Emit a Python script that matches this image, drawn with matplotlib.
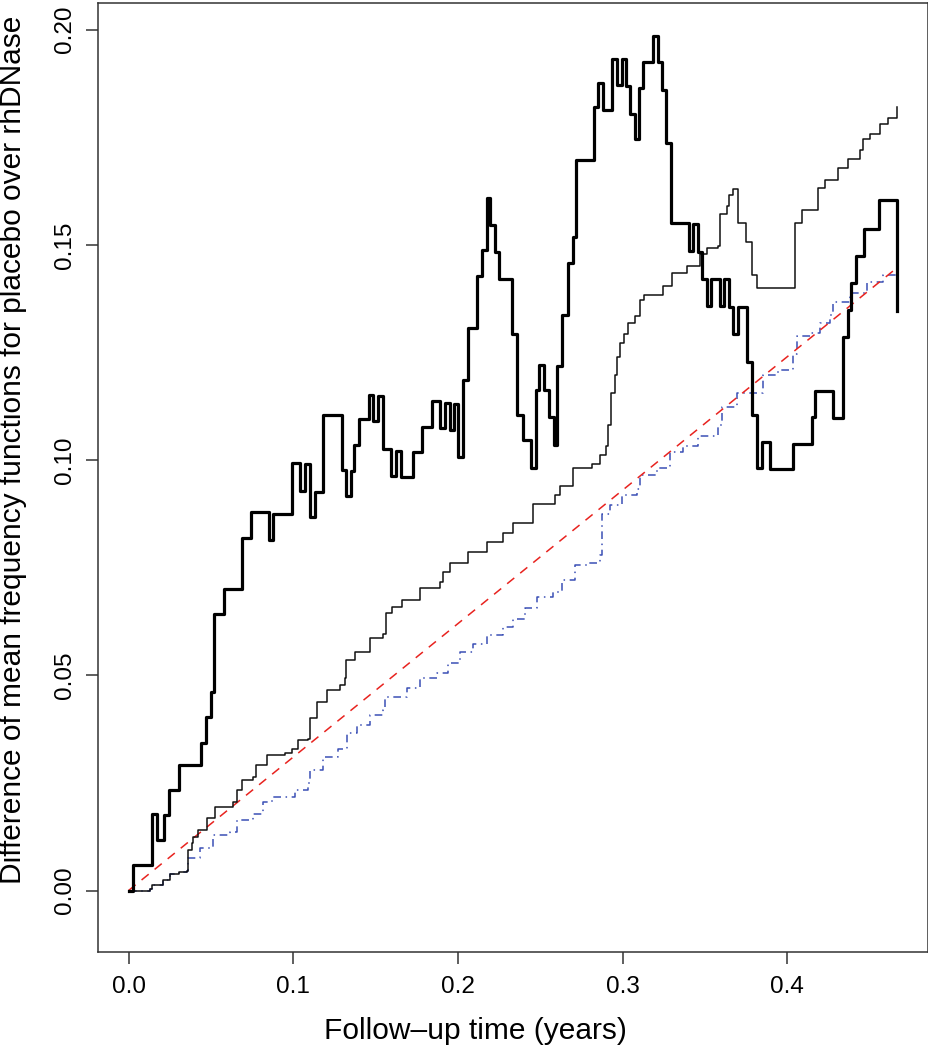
import numpy as np
import matplotlib
matplotlib.use('Agg')
import matplotlib.pyplot as plt

plt.rcParams['font.family'] = ['Liberation Sans', 'DejaVu Sans']

# thick black step curve: step start times and levels
thick_t = [0, 0.0029, 0.014, 0.017, 0.0215, 0.0247, 0.0308, 0.044, 0.0468, 0.0498,
           0.052, 0.0581, 0.069, 0.0741, 0.0852, 0.0879, 0.099, 0.104, 0.107, 0.110,
           0.1132, 0.1178, 0.1294, 0.132, 0.1348, 0.137, 0.140, 0.146, 0.1482, 0.1516,
           0.1543, 0.1593, 0.1622, 0.1652, 0.1729, 0.178, 0.184, 0.189, 0.192, 0.195,
           0.1978, 0.2002, 0.2033, 0.2063, 0.2113, 0.2144, 0.2174, 0.2194, 0.2225, 0.2251,
           0.233, 0.236, 0.2393, 0.2441, 0.2474, 0.2494, 0.2522, 0.2554, 0.2583, 0.2603,
           0.2633, 0.2666, 0.2696, 0.2716, 0.2826, 0.2852, 0.2882, 0.2933, 0.2963, 0.2994,
           0.3018, 0.3044, 0.3075, 0.3101, 0.3125, 0.3182, 0.3213, 0.3237, 0.3263, 0.3293,
           0.3404, 0.3425, 0.3455, 0.3483, 0.3514, 0.3534, 0.359, 0.3617, 0.3645, 0.3672,
           0.3702, 0.3757, 0.3783, 0.3817, 0.3848, 0.3894, 0.4032, 0.4151, 0.4168, 0.4279,
           0.4336, 0.437, 0.4384, 0.4417, 0.4465, 0.4558, 0.4663]
thick_y = [0, 0.0059, 0.0179, 0.0117, 0.0175, 0.0233, 0.0292, 0.0343, 0.0404, 0.0462,
           0.0642, 0.0701, 0.0820, 0.0879, 0.0814, 0.0874, 0.0993, 0.0928, 0.099, 0.0868,
           0.0925, 0.1105, 0.0978, 0.0917, 0.0975, 0.1036, 0.1096, 0.1152, 0.109, 0.115,
           0.1026, 0.0963, 0.1022, 0.0961, 0.1019, 0.1077, 0.1138, 0.1075, 0.1133, 0.1071,
           0.1131, 0.1007, 0.1187, 0.1308, 0.1428, 0.1488, 0.1608, 0.1546, 0.1484, 0.1421,
           0.1293, 0.1106, 0.1046, 0.0982, 0.1162, 0.1222, 0.1162, 0.110, 0.1036, 0.1218,
           0.1337, 0.1457, 0.1518, 0.1697, 0.182, 0.1876, 0.1813, 0.1933, 0.1871, 0.1932,
           0.1869, 0.1805, 0.1745, 0.1865, 0.1925, 0.1986, 0.1925, 0.1861, 0.1737, 0.155,
           0.1485, 0.1548, 0.1484, 0.1421, 0.1359, 0.1421, 0.1358, 0.142, 0.1355, 0.1293,
           0.1355, 0.1229, 0.1105, 0.0982, 0.1042, 0.098, 0.1038, 0.110, 0.116, 0.1098,
           0.1285, 0.1348, 0.1411, 0.1474, 0.1538, 0.1604, 0.1347]

# thin black step curve
thin_t = [0, 0.0130, 0.0140, 0.0211, 0.0251, 0.0308, 0.0353, 0.0359, 0.0383, 0.0393,
          0.0423, 0.0474, 0.0525, 0.0636, 0.0656, 0.0690, 0.0757, 0.0772, 0.0838, 0.0950,
          0.0990, 0.1031, 0.1091, 0.1101, 0.1142, 0.1203, 0.1284, 0.1314, 0.1320, 0.1375,
          0.1466, 0.1547, 0.1563, 0.1597, 0.1658, 0.1769, 0.1891, 0.1911, 0.1951, 0.2063,
          0.2174, 0.2275, 0.2336, 0.2457, 0.2589, 0.2619, 0.2700, 0.2812, 0.2862, 0.2899,
          0.2913, 0.2927, 0.2953, 0.2967, 0.2984, 0.3008, 0.3034, 0.3075, 0.3105, 0.3129,
          0.3247, 0.3297, 0.3389, 0.3469, 0.3510, 0.3581, 0.3591, 0.3632, 0.3647, 0.3672,
          0.3702, 0.3749, 0.3783, 0.3814, 0.4046, 0.4087, 0.4188, 0.4228, 0.4309, 0.4370,
          0.4441, 0.4461, 0.4501, 0.4562, 0.4613, 0.4663]
thin_y = [0, 0.0003, 0.0013, 0.0024, 0.0038, 0.0042, 0.0046, 0.0094, 0.0110, 0.0125,
          0.0141, 0.0168, 0.0195, 0.0206, 0.0233, 0.0258, 0.0264, 0.0292, 0.0315, 0.0319,
          0.0330, 0.0350, 0.0353, 0.0400, 0.0439, 0.0466, 0.0477, 0.0493, 0.0535, 0.0555,
          0.0586, 0.0596, 0.0644, 0.0659, 0.0675, 0.0702, 0.0717, 0.0741, 0.0760, 0.0787,
          0.0810, 0.0830, 0.0853, 0.0899, 0.0920, 0.0940, 0.0982, 0.0990, 0.1011, 0.1032,
          0.1081, 0.1156, 0.1197, 0.1239, 0.1272, 0.1293, 0.1318, 0.1334, 0.1372, 0.1384,
          0.1405, 0.1434, 0.1451, 0.1479, 0.1492, 0.1498, 0.1571, 0.1591, 0.1616, 0.1631,
          0.1550, 0.1506, 0.1430, 0.1401, 0.1550, 0.1581, 0.1633, 0.1650, 0.1679, 0.1699,
          0.1720, 0.1745, 0.1757, 0.1782, 0.1795, 0.1820]

# blue dash-dot step curve
blue_t = [0, 0.0130, 0.0140, 0.0211, 0.0251, 0.0308, 0.0353, 0.0359, 0.0434, 0.0514,
          0.0616, 0.0656, 0.0757, 0.0818, 0.0869, 0.1010, 0.1091, 0.1101, 0.1182, 0.1273,
          0.1324, 0.1385, 0.1466, 0.1547, 0.1557, 0.1688, 0.1769, 0.1871, 0.1941, 0.2012,
          0.2093, 0.2174, 0.2275, 0.2336, 0.2407, 0.2478, 0.2579, 0.2630, 0.2710, 0.2791,
          0.2862, 0.2873, 0.2923, 0.2994, 0.3085, 0.3105, 0.3206, 0.3287, 0.3368, 0.3459,
          0.3581, 0.3601, 0.3692, 0.3854, 0.3945, 0.4036, 0.4056, 0.4137, 0.4198, 0.4259,
          0.4279, 0.4380, 0.4481, 0.4582, 0.4663]
blue_y = [0, 0.0003, 0.0013, 0.0024, 0.0038, 0.0042, 0.0046, 0.0075, 0.0098, 0.0129,
          0.0136, 0.0164, 0.0179, 0.0206, 0.0218, 0.0233, 0.0249, 0.0280, 0.0311, 0.0330,
          0.0365, 0.0384, 0.0408, 0.0419, 0.0450, 0.0470, 0.0493, 0.0505, 0.0528, 0.0555,
          0.0574, 0.0594, 0.0613, 0.0632, 0.0656, 0.0682, 0.0694, 0.0721, 0.0756, 0.0760,
          0.0779, 0.0876, 0.0896, 0.0920, 0.0932, 0.0965, 0.0982, 0.1019, 0.1032, 0.1056,
          0.1081, 0.1123, 0.1156, 0.1197, 0.1210, 0.1247, 0.1289, 0.1295, 0.1318, 0.1338,
          0.1367, 0.1388, 0.1413, 0.1431, 0.1446]

# red dashed reference line
red_t = [0, 0.4663]
red_y = [0, 0.1446]

xticks = [0.0, 0.1, 0.2, 0.3, 0.4]
xlabels = ['0.0', '0.1', '0.2', '0.3', '0.4']
yticks = [0.0, 0.05, 0.10, 0.15, 0.20]
ylabels = ['0.00', '0.05', '0.10', '0.15', '0.20']

W, H = 929, 1050
fig = plt.figure(figsize=(W / 100, H / 100), dpi=100)
ax = fig.add_axes([97.7 / W, 1 - 951.7 / H, (928 - 97.7) / W, (951.7 - 3) / H])

ax.step(blue_t, blue_y, where='post', color='#3a4fb5', lw=1.1, dashes=(5, 3, 1, 3))
ax.plot(red_t, red_y, color='#e8231f', lw=1.1, dashes=(6, 5))
ax.step(thin_t, thin_y, where='post', color='#111111', lw=1.1)
ax.step(thick_t, thick_y, where='post', color='black', lw=2.3)

ax.set_xlim(-0.0187, 0.4854)
ax.set_ylim(-0.0142, 0.2062)
ax.set_xticks(xticks)
ax.set_xticklabels(xlabels)
ax.set_yticks(yticks)
ax.set_yticklabels(ylabels, rotation=90, va='center')

for s in ax.spines.values():
    s.set_linewidth(1.1)
    s.set_color('#333333')
ax.tick_params(length=8.5, width=1.1, color='#333333', labelsize=17.5)
ax.tick_params(axis='x', pad=9)
ax.tick_params(axis='y', pad=7)

fig.text(475 / W, 1 - 1031 / H, 'Follow\u2013up time (years)', ha='center', va='center', fontsize=21.5)
fig.text(13 / W, 1 - 450 / H, 'Difference of mean frequency functions for placebo over rhDNase',
         ha='center', va='center', rotation=90, fontsize=21.5)

fig.savefig('out.png', dpi=100)
